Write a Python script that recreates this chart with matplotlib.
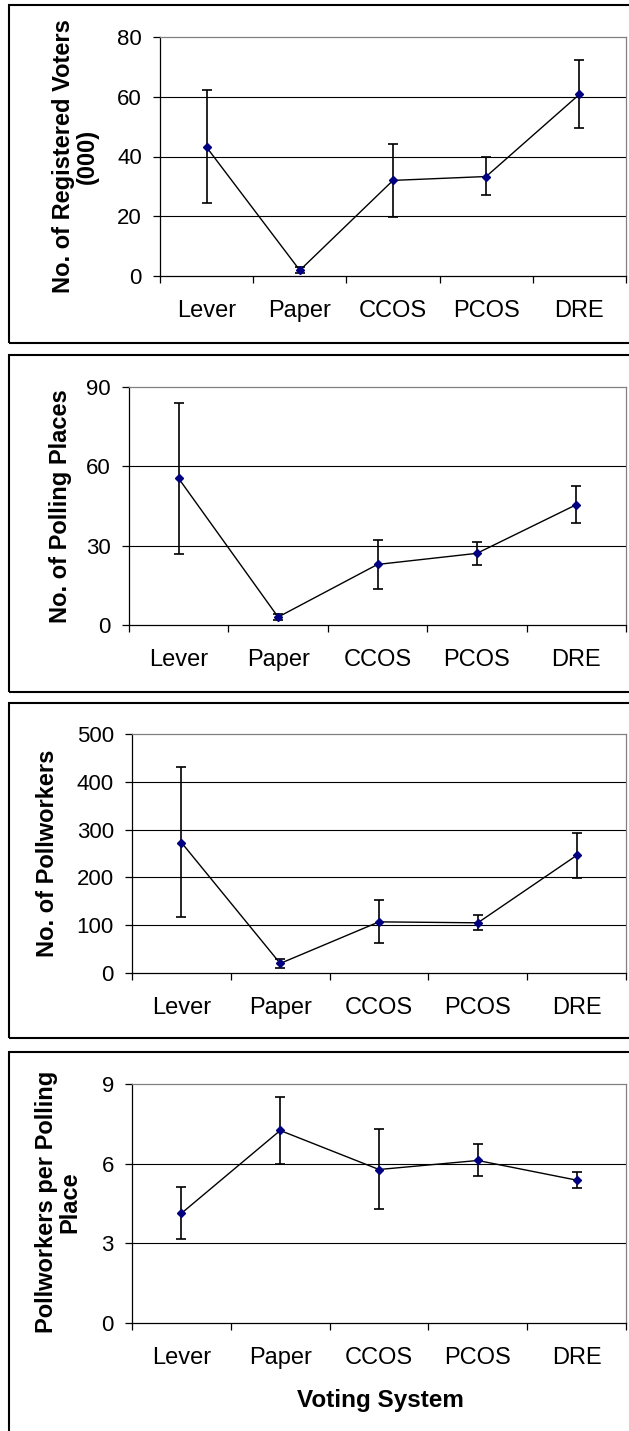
import matplotlib
matplotlib.use("Agg")
import matplotlib.pyplot as plt
from matplotlib.patches import Rectangle
from matplotlib.ticker import FixedLocator, NullFormatter

plt.rcParams['font.family'] = ['Liberation Sans', 'DejaVu Sans']

categories = ["Lever", "Paper", "CCOS", "PCOS", "DRE"]

voters = [43.1, 1.9, 32.0, 33.3, 60.8]
voters_lo = [24.3, 0.9, 19.8, 27.0, 49.5]
voters_hi = [62.2, 2.9, 44.3, 39.8, 72.3]

places = [55.4, 3.0, 22.9, 27.1, 45.5]
places_lo = [26.7, 2.0, 13.6, 22.8, 38.5]
places_hi = [84.0, 4.0, 32.2, 31.5, 52.7]

workers = [273, 20, 107, 105, 246]
workers_lo = [117, 11, 62, 89, 198]
workers_hi = [430, 30, 153, 121, 293]

ratio = [4.13, 7.25, 5.78, 6.12, 5.38]
ratio_lo = [3.17, 6.00, 4.30, 5.52, 5.08]
ratio_hi = [5.13, 8.50, 7.29, 6.73, 5.68]

ylabels = ["No. of Registered Voters\n(000)", "No. of Polling Places",
           "No. of Pollworkers", "Pollworkers per Polling\nPlace"]
yticks = [[0, 20, 40, 60, 80], [0, 30, 60, 90], [0, 100, 200, 300, 400, 500], [0, 3, 6, 9]]

W, H = 629, 1431
fig = plt.figure(figsize=(W / 100, H / 100), dpi=100)

# axes rectangles in pixels: left, right, top, bottom
axes_px = [(160, 626, 37, 276), (129, 626, 387, 625), (132, 626, 734, 973), (132, 626, 1084, 1323)]
# outer panel boxes: top, bottom
boxes_px = [(5, 343), (355, 692), (703, 1038), (1052, 1445)]
ylabel_pos = [(75, 156), (60, 506), (48, 853), (58, 1202)]

data = [(voters, voters_lo, voters_hi), (places, places_lo, places_hi),
        (workers, workers_lo, workers_hi), (ratio, ratio_lo, ratio_hi)]

for (top, bot) in boxes_px:
    fig.patches.append(Rectangle((9 / W, 1 - bot / H), (650 - 9) / W, (bot - top) / H,
                                 transform=fig.transFigure, fill=False,
                                 edgecolor='black', linewidth=1.5, zorder=0))

xs = list(range(len(categories)))
for i, ((l, r, t, b), (vals, lo, hi)) in enumerate(zip(axes_px, data)):
    ax = fig.add_axes([l / W, 1 - b / H, (r - l) / W, (b - t) / H])
    yerr = [[v - a for v, a in zip(vals, lo)], [c - v for v, c in zip(vals, hi)]]
    ax.errorbar(xs, vals, yerr=yerr, fmt='none', ecolor='black', elinewidth=1.2,
                capsize=3.6, capthick=1.2, zorder=3)
    ax.plot(xs, vals, color='black', linewidth=1.0, zorder=4)
    ax.plot(xs, vals, linestyle='none', marker='D', markersize=4.3,
            markerfacecolor='#000080', markeredgecolor='#000080', zorder=5)
    ax.set_xlim(-0.5, 4.5)
    ax.set_ylim(yticks[i][0], yticks[i][-1])
    ax.set_yticks(yticks[i])
    ax.set_yticklabels([str(v) for v in yticks[i]])
    ax.set_xticks(xs)
    ax.set_xticklabels(categories)
    ax.xaxis.set_minor_locator(FixedLocator([-0.5, 0.5, 1.5, 2.5, 3.5, 4.5]))
    ax.xaxis.set_minor_formatter(NullFormatter())
    ax.tick_params(axis='x', which='major', length=0, pad=17.5, labelsize=17)
    ax.tick_params(axis='x', which='minor', length=5, width=0.9, direction='out', color='black')
    ax.tick_params(axis='y', which='major', length=5, width=0.9, direction='out',
                   pad=8, labelsize=16)
    for yv in yticks[i][1:-1]:
        ax.axhline(yv, color='black', linewidth=0.8, zorder=1)
    ax.spines['left'].set_color('black')
    ax.spines['bottom'].set_color('black')
    ax.spines['left'].set_linewidth(0.9)
    ax.spines['bottom'].set_linewidth(0.9)
    ax.spines['top'].set_color('#808080')
    ax.spines['right'].set_color('#808080')
    ax.spines['top'].set_linewidth(0.9)
    ax.spines['right'].set_linewidth(0.9)
    ax.set_facecolor('none')
    lx, ly = ylabel_pos[i]
    fig.text(lx / W, 1 - ly / H, ylabels[i], rotation=90, ha='center', va='center',
             fontsize=17, fontweight='bold', linespacing=1.05, multialignment='center')

fig.text(380 / W, 1 - 1400 / H, "Voting System", ha='center', va='center',
         fontsize=17.5, fontweight='bold')

fig.savefig("out.png", dpi=100)
